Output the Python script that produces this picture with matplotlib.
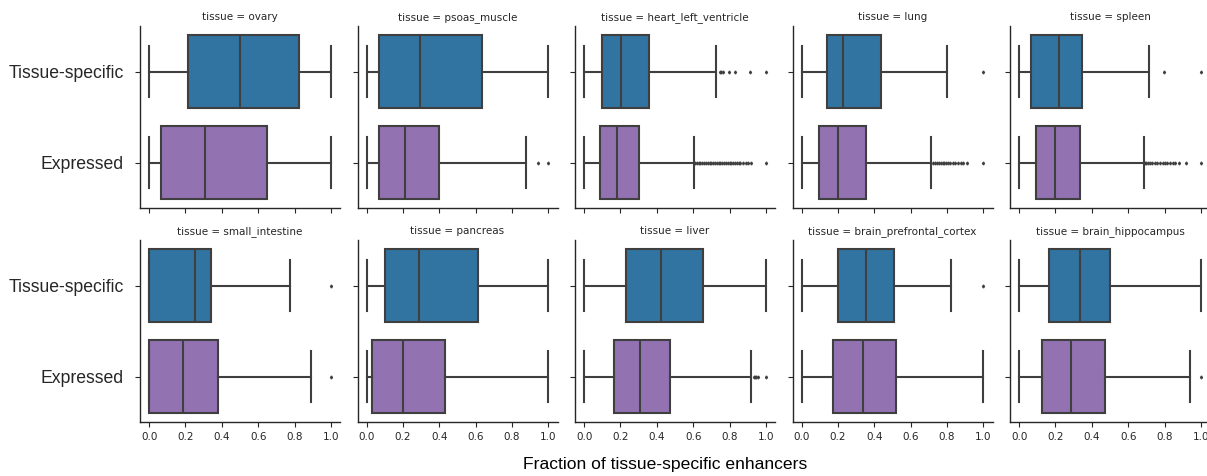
import matplotlib.pyplot as plt

# -----------------------------
# Data
# -----------------------------

tissues = ["ovary", "psoas_muscle", "heart_left_ventricle", "lung", "spleen",
           "small_intestine", "pancreas", "liver", "brain_prefrontal_cortex",
           "brain_hippocampus"]
groups = ["Tissue-specific", "Expressed"]

# Tissue-specific boxes
ts_whislo = [0.0, 0.0, 0.0, 0.0, 0.0, 0.0, 0.0, 0.0, 0.0, 0.0]
ts_q1 = [0.214, 0.07, 0.097, 0.142, 0.064, 0.0, 0.10, 0.228, 0.20, 0.167]
ts_med = [0.50, 0.293, 0.205, 0.229, 0.22, 0.252, 0.287, 0.425, 0.355, 0.333]
ts_q3 = [0.822, 0.637, 0.356, 0.437, 0.346, 0.343, 0.61, 0.653, 0.51, 0.50]
ts_whishi = [1.0, 1.0, 0.725, 0.80, 0.713, 0.776, 1.0, 1.0, 0.819, 1.0]
ts_fliers = [
    [],
    [],
    [0.745, 0.755, 0.766, 0.796, 0.832, 0.913, 1.0],
    [1.0],
    [0.797, 1.0],
    [1.0],
    [],
    [],
    [1.0],
    [],
]

# Expressed boxes
exp_whislo = [0.0, 0.0, 0.0, 0.0, 0.0, 0.0, 0.0, 0.0, 0.0, 0.0]
exp_q1 = [0.068, 0.07, 0.09, 0.098, 0.094, 0.0, 0.03, 0.166, 0.174, 0.124]
exp_med = [0.31, 0.212, 0.182, 0.20, 0.20, 0.184, 0.20, 0.306, 0.339, 0.287]
exp_q3 = [0.65, 0.40, 0.301, 0.352, 0.335, 0.377, 0.43, 0.471, 0.517, 0.47]
exp_whishi = [1.0, 0.875, 0.605, 0.711, 0.687, 0.888, 1.0, 0.919, 1.0, 0.938]
exp_fliers = [
    [],
    [0.943, 1.0],
    [0.61, 0.62, 0.63, 0.64, 0.65, 0.66, 0.67, 0.68, 0.69, 0.70, 0.71, 0.72,
     0.73, 0.74, 0.75, 0.76, 0.77, 0.78, 0.79, 0.80, 0.81, 0.82, 0.83, 0.84,
     0.85, 0.86, 0.875, 0.89, 0.90, 0.917, 1.0],
    [0.724, 0.735, 0.745, 0.755, 0.765, 0.775, 0.785, 0.795, 0.805, 0.815,
     0.83, 0.845, 0.86, 0.878, 0.89, 0.912, 1.0],
    [0.69, 0.70, 0.71, 0.72, 0.73, 0.745, 0.76, 0.775, 0.79, 0.80, 0.815,
     0.83, 0.845, 0.86, 0.877, 0.92, 1.0],
    [1.0],
    [],
    [0.932, 0.94, 0.948, 0.957, 1.0],
    [],
    [1.0],
]

colors = ["#3274a1", "#9372b2"]
edge = "#3f3f3f"

# -----------------------------
# Figure
# -----------------------------

fig = plt.figure(figsize=(12.07, 4.76), dpi=100)

ax_w = 200 / 1207
col_step = 217.5 / 1207
row_bottoms = [1 - 208 / 476, 1 - 422 / 476]
ax_h = 182 / 476

for i, tissue in enumerate(tissues):
    row, col = divmod(i, 5)
    ax = fig.add_axes([140 / 1207 + col * col_step, row_bottoms[row], ax_w, ax_h])

    stats = [
        dict(whislo=ts_whislo[i], q1=ts_q1[i], med=ts_med[i], q3=ts_q3[i],
             whishi=ts_whishi[i], fliers=ts_fliers[i]),
        dict(whislo=exp_whislo[i], q1=exp_q1[i], med=exp_med[i], q3=exp_q3[i],
             whishi=exp_whishi[i], fliers=exp_fliers[i]),
    ]
    parts = ax.bxp(
        stats, positions=[0, 1], widths=0.8, capwidths=0.55,
        orientation="horizontal", patch_artist=True,
        boxprops=dict(edgecolor=edge, linewidth=1.5),
        medianprops=dict(color=edge, linewidth=1.5),
        whiskerprops=dict(color=edge, linewidth=1.5),
        capprops=dict(color=edge, linewidth=1.5),
        flierprops=dict(marker="d", markersize=1.5, markerfacecolor=edge,
                        markeredgecolor=edge, linestyle="none"),
    )
    for box, c in zip(parts["boxes"], colors):
        box.set_facecolor(c)

    ax.set_xlim(-0.05, 1.05)
    ax.set_ylim(1.5, -0.5)
    ax.set_xticks([0.0, 0.2, 0.4, 0.6, 0.8, 1.0])
    ax.set_yticks([0, 1])
    for side in ["top", "right"]:
        ax.spines[side].set_visible(False)
    for side in ["left", "bottom"]:
        ax.spines[side].set_color("0.15")
        ax.spines[side].set_linewidth(1.0)
    ax.tick_params(axis="both", length=3.5, width=0.8, color="0.15",
                   labelsize=7.5, labelcolor="0.15")

    if col == 0:
        ax.set_yticklabels(groups, fontsize=12.7, family="Liberation Sans")
        ax.tick_params(axis="y", pad=8)
    else:
        ax.set_yticklabels([])
    if row == 0:
        ax.set_xticklabels([])
    else:
        ax.set_xticklabels(["0.0", "0.2", "0.4", "0.6", "0.8", "1.0"])

    ax.set_title("tissue = " + tissue, fontsize=7.5, pad=4, color="0.15")

fig.text(665 / 1207, 1 - 465 / 476, "Fraction of tissue-specific enhancers",
         ha="center", va="center", fontsize=12.6, family="Liberation Sans")

fig.savefig("out.png", dpi=100)
